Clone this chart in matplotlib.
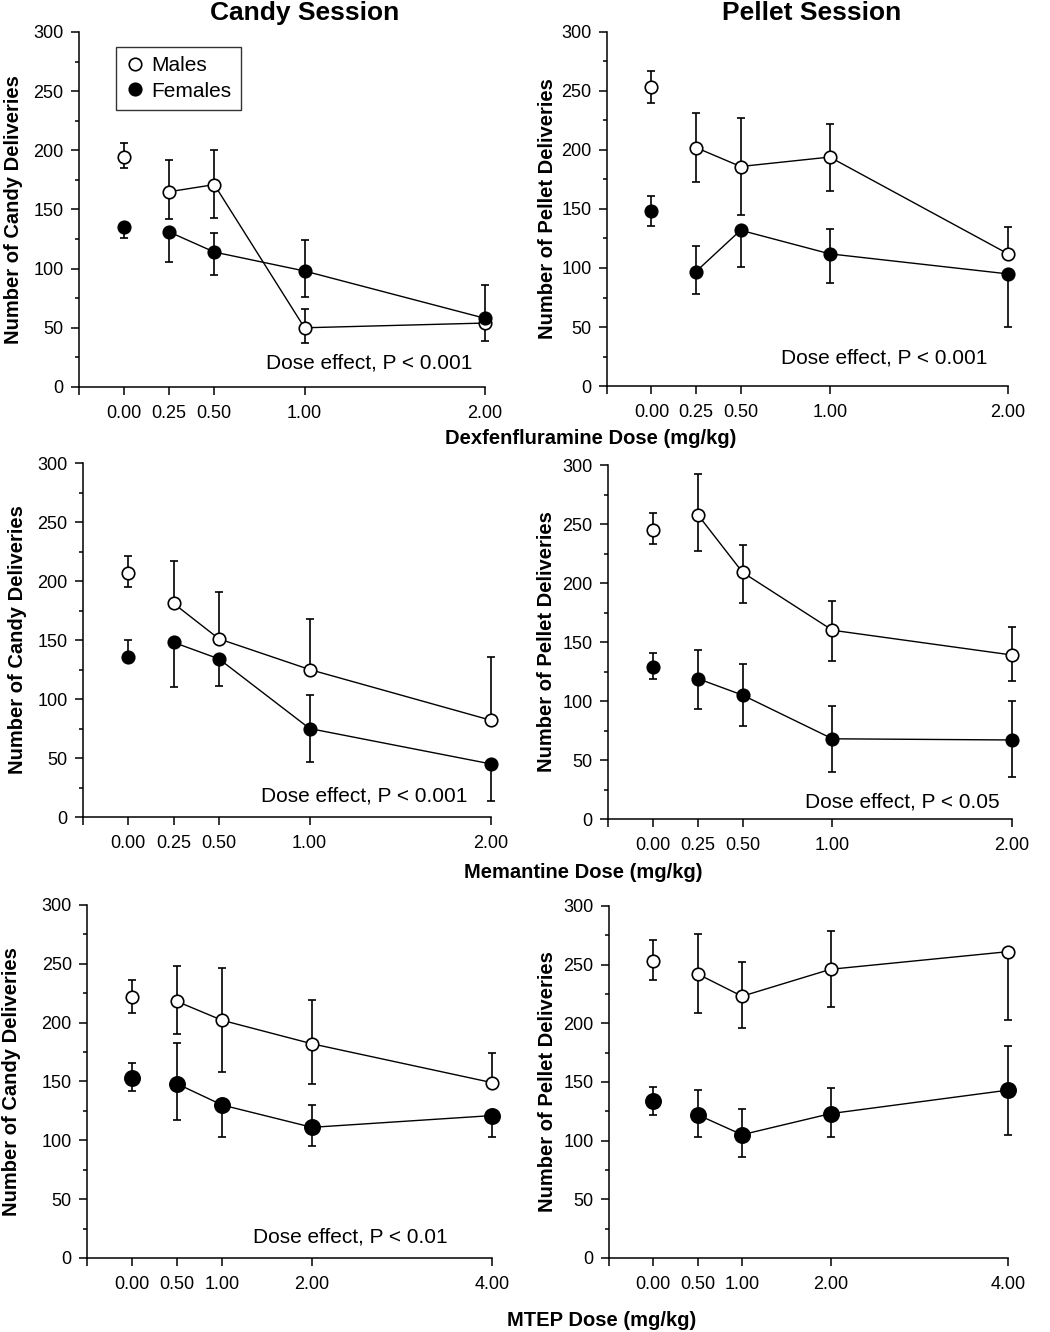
import numpy as np
import matplotlib
matplotlib.use('Agg')
import matplotlib.pyplot as plt
from matplotlib.ticker import MultipleLocator

plt.rcParams['font.family'] = ['Liberation Sans', 'DejaVu Sans']

# doses (mg/kg)
dose_dex = [0, 0.25, 0.5, 1.0, 2.0]
dose_mem = [0, 0.25, 0.5, 1.0, 2.0]
dose_mtep = [0, 0.5, 1.0, 2.0, 4.0]
dose_labels_a = ['0.00', '0.25', '0.50', '1.00', '2.00']
dose_labels_b = ['0.00', '0.50', '1.00', '2.00', '4.00']

# dexfenfluramine, candy
dex_candy_m = [194, 165, 171, 50, 54]
dex_candy_m_lo = [9, 23, 28, 13, 15]
dex_candy_m_hi = [12, 27, 29, 16, 0]
dex_candy_f = [135, 131, 114, 98, 58]
dex_candy_f_lo = [9, 25, 19, 22, 0]
dex_candy_f_hi = [0, 0, 16, 26, 28]
# dexfenfluramine, pellet
dex_pellet_m = [253, 202, 186, 194, 112]
dex_pellet_m_lo = [13, 29, 41, 29, 0]
dex_pellet_m_hi = [14, 29, 41, 28, 23]
dex_pellet_f = [148, 97, 132, 112, 95]
dex_pellet_f_lo = [12, 19, 31, 25, 45]
dex_pellet_f_hi = [13, 22, 0, 21, 0]
# memantine, candy
mem_candy_m = [207, 181, 151, 125, 82]
mem_candy_m_lo = [12, 0, 0, 0, 0]
mem_candy_m_hi = [14, 36, 40, 43, 54]
mem_candy_f = [136, 148, 134, 75, 45]
mem_candy_f_lo = [0, 38, 23, 28, 31]
mem_candy_f_hi = [14, 0, 0, 28, 0]
# memantine, pellet
mem_pellet_m = [245, 258, 209, 160, 139]
mem_pellet_m_lo = [12, 31, 26, 26, 22]
mem_pellet_m_hi = [14, 34, 23, 25, 24]
mem_pellet_f = [129, 119, 105, 68, 67]
mem_pellet_f_lo = [10, 26, 26, 28, 31]
mem_pellet_f_hi = [12, 24, 26, 28, 33]
# MTEP, candy
mtep_candy_m = [222, 218, 202, 182, 149]
mtep_candy_m_lo = [14, 28, 44, 34, 0]
mtep_candy_m_hi = [14, 30, 44, 37, 25]
mtep_candy_f = [153, 148, 130, 111, 121]
mtep_candy_f_lo = [11, 31, 27, 16, 18]
mtep_candy_f_hi = [13, 35, 0, 19, 0]
# MTEP, pellet
mtep_pellet_m = [253, 242, 223, 246, 261]
mtep_pellet_m_lo = [16, 33, 27, 32, 58]
mtep_pellet_m_hi = [18, 34, 29, 33, 0]
mtep_pellet_f = [134, 122, 105, 123, 143]
mtep_pellet_f_lo = [12, 19, 19, 20, 38]
mtep_pellet_f_hi = [12, 21, 22, 22, 38]

session_titles = ['Candy Session', 'Pellet Session']
ylabels = ['Number of Candy Deliveries', 'Number of Pellet Deliveries']
drug_labels = ['Dexfenfluramine Dose (mg/kg)', 'Memantine Dose (mg/kg)', 'MTEP Dose (mg/kg)']
stat_text = ['Dose effect, P < 0.001', 'Dose effect, P < 0.001',
             'Dose effect, P < 0.001', 'Dose effect, P < 0.05',
             'Dose effect, P < 0.01', None]

panels = [
    (dose_dex, dose_labels_a, dex_candy_m, dex_candy_m_lo, dex_candy_m_hi,
     dex_candy_f, dex_candy_f_lo, dex_candy_f_hi),
    (dose_dex, dose_labels_a, dex_pellet_m, dex_pellet_m_lo, dex_pellet_m_hi,
     dex_pellet_f, dex_pellet_f_lo, dex_pellet_f_hi),
    (dose_mem, dose_labels_a, mem_candy_m, mem_candy_m_lo, mem_candy_m_hi,
     mem_candy_f, mem_candy_f_lo, mem_candy_f_hi),
    (dose_mem, dose_labels_a, mem_pellet_m, mem_pellet_m_lo, mem_pellet_m_hi,
     mem_pellet_f, mem_pellet_f_lo, mem_pellet_f_hi),
    (dose_mtep, dose_labels_b, mtep_candy_m, mtep_candy_m_lo, mtep_candy_m_hi,
     mtep_candy_f, mtep_candy_f_lo, mtep_candy_f_hi),
    (dose_mtep, dose_labels_b, mtep_pellet_m, mtep_pellet_m_lo, mtep_pellet_m_hi,
     mtep_pellet_f, mtep_pellet_f_lo, mtep_pellet_f_hi),
]

# axes rectangles (figure fractions) and label/text placement
rects = [[0.0752, 0.7095, 0.3867, 0.2665], [0.578, 0.7102, 0.382, 0.2658],
         [0.079, 0.3866, 0.3886, 0.2658], [0.579, 0.3851, 0.3848, 0.2658],
         [0.0829, 0.0556, 0.3857, 0.265], [0.58, 0.0556, 0.38, 0.2643]]
ylab_x = [-0.138, -0.125, -0.137, -0.128, -0.163, -0.130]
stat_pos = [(0.714, 0.068), (0.692, 0.079), (0.689, 0.059), (0.728, 0.048),
            (0.649, 0.059), None]

fig = plt.figure(figsize=(10.5, 13.32), dpi=100)

for i, p in enumerate(panels):
    dose, dlabels, m, mlo, mhi, f, flo, fhi = p
    dose = np.array(dose)
    ax = fig.add_axes(rects[i])
    fsize = 11 if i >= 4 else 9
    # error bars
    ax.errorbar(dose, m, yerr=[mlo, mhi], fmt='none', ecolor='black',
                elinewidth=1.2, capsize=3, capthick=1.2, clip_on=False, zorder=2)
    ax.errorbar(dose, f, yerr=[flo, fhi], fmt='none', ecolor='black',
                elinewidth=1.2, capsize=3, capthick=1.2, clip_on=False, zorder=2)
    # connecting lines (drug doses only)
    ax.plot(dose[1:], m[1:], color='black', lw=1.0, zorder=3, clip_on=False)
    ax.plot(dose[1:], f[1:], color='black', lw=1.0, zorder=3, clip_on=False)
    ax.plot(dose, m, 'o', ms=9, mfc='white', mec='black', mew=1.2,
            ls='none', zorder=4, clip_on=False, label='Males')
    ax.plot(dose, f, 'o', ms=fsize, mfc='black', mec='black', mew=1.2,
            ls='none', zorder=5, clip_on=False, label='Females')

    step = dose[1]
    ax.set_xlim(-step, dose[-1])
    ax.set_ylim(0, 300)
    ax.set_xticks([-step] + list(dose))
    ax.set_xticklabels([''] + dlabels)
    ax.yaxis.set_major_locator(MultipleLocator(50))
    ax.yaxis.set_minor_locator(MultipleLocator(25))
    ax.spines['top'].set_visible(False)
    ax.spines['right'].set_visible(False)
    for s in ['left', 'bottom']:
        ax.spines[s].set_linewidth(1.1)
    ax.tick_params(axis='both', which='major', direction='out', length=6,
                   width=1.1, labelsize=13)
    ax.tick_params(axis='x', pad=7)
    ax.tick_params(axis='y', pad=5)
    ax.tick_params(axis='y', which='minor', direction='out', length=3, width=1.1)
    ax.set_ylabel(ylabels[i % 2], fontsize=14.5, fontweight='bold')
    ax.yaxis.set_label_coords(ylab_x[i], 0.5)
    if stat_text[i] is not None:
        ax.text(stat_pos[i][0], stat_pos[i][1], stat_text[i], transform=ax.transAxes,
                ha='center', va='center', fontsize=15)
    if i == 0:
        ax.legend(loc='upper left', bbox_to_anchor=(0.091, 0.958), fontsize=15,
                  frameon=True, fancybox=False, edgecolor='black', handletextpad=0.35,
                  handlelength=0.9, borderpad=0.45, labelspacing=0.3, borderaxespad=0)
        leg = ax.get_legend()
        leg.get_frame().set_linewidth(1.0)

fig.text(0.290, 0.990, session_titles[0], ha='center', va='center',
         fontsize=19, fontweight='bold')
fig.text(0.773, 0.990, session_titles[1], ha='center', va='center',
         fontsize=19, fontweight='bold')
fig.text(0.563, 0.671, drug_labels[0], ha='center', va='center',
         fontsize=14.5, fontweight='bold')
fig.text(0.555, 0.3446, drug_labels[1], ha='center', va='center',
         fontsize=14.5, fontweight='bold')
fig.text(0.573, 0.009, drug_labels[2], ha='center', va='center',
         fontsize=14.5, fontweight='bold')

fig.savefig('out.png', dpi=100)
